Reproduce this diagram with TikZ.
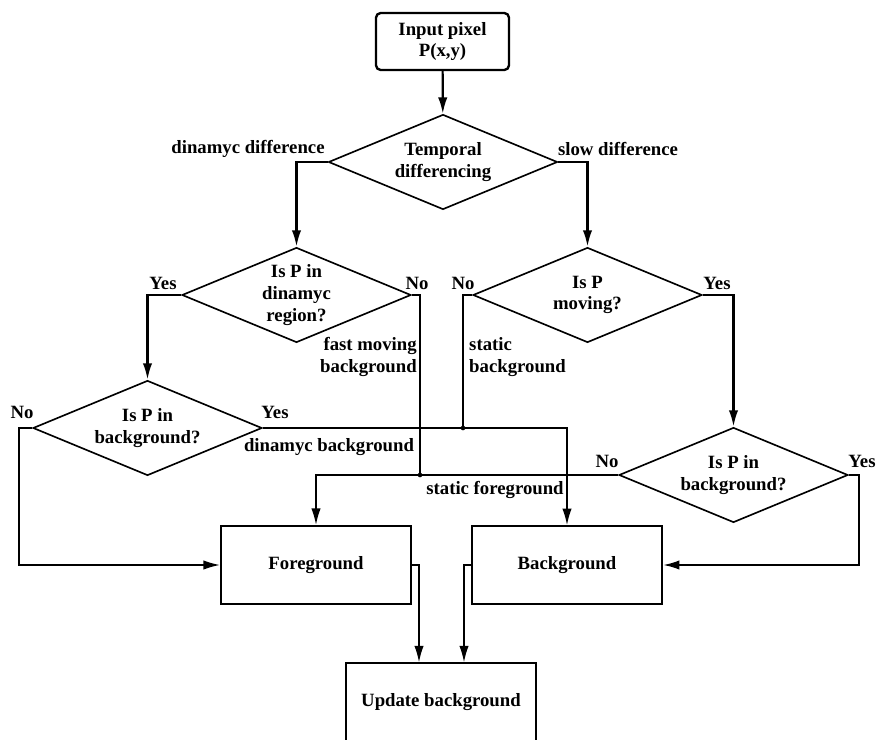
\documentclass[tikz,border=0pt]{standalone}
\usepackage{fontspec}
\setmainfont{Liberation Serif}
\usetikzlibrary{shapes.geometric, arrows.meta, positioning}

\begin{document}
\begin{tikzpicture}[
    x=3cm, y=-3cm,
    every node/.style={font=\bfseries\fontsize{16}{18.5}\selectfont},
    box/.style={
        rectangle, draw=black, line width=2pt,
        minimum width=5.7cm, minimum height=2.34cm,
        align=center, inner sep=0pt
    },
    decision/.style={
        diamond, draw=black, line width=1.4pt,
        minimum width=6.87cm, minimum height=2.85cm,
        aspect=2.4, align=center, inner sep=0pt
    },
    lbl/.style={inner sep=0pt, align=center},
    flow/.style={-{Latex[length=14pt,width=8pt]}, line width=1.9pt},
    thinflow/.style={-{Latex[length=14pt,width=8pt]}, line width=1.2pt},
    branch/.style={line width=1.9pt},
    joint/.style={circle, fill=black, inner sep=0pt, minimum size=4pt}
]
\useasboundingbox (0,0) rectangle (8.77,7.40);

% Start
\node[box, rounded corners=4pt, minimum width=3.99cm, minimum height=1.71cm] (input) at (4.425,0.415) {Input pixel\\P(x,y)};

% Decisions
\node[decision] (temporal) at (4.43,1.62) {Temporal\\differencing};
\node[decision] (dynregion) at (2.965,2.95) {Is P in\\dinamyc\\region?};
\node[decision] (moving) at (5.875,2.95) {Is P\\moving?};
\node[decision] (bgleft) at (1.475,4.28) {Is P in\\background?};
\node[decision] (bgright) at (7.335,4.75) {Is P in\\background?};

% Results
\node[box] (fg) at (3.16,5.65) {Foreground};
\node[box, line width=1.6pt] (bg) at (5.67,5.65) {Background};
\node[box, line width=1.3pt] (update) at (4.41,7.02) {Update background};

% Junctions
\coordinate (jfast) at (4.20,4.75);
\coordinate (jstatic) at (4.63,4.28);

% Relationships
\draw[flow] (input) -- (temporal);
\draw[flow] (temporal.west) -| (dynregion.north);
\draw[flow] (temporal.east) -| (moving.north);
\draw[flow] (dynregion.west) -| (bgleft.north);
\draw[flow] (moving.east) -| (bgright.north);
\draw[thinflow] (bgleft.west) -- ++(-0.13,0) |- (fg.west);
\draw[thinflow] (bgleft.east) -| (bg.north);
\draw[branch] (dynregion.east) -| (jfast);
\draw[branch] (moving.west) -| (jstatic);
\draw[thinflow] (bgright.west) -| (fg.north);
\draw[flow] (bgright.east) -- ++(0.10,0) |- (bg.east);
\draw[thinflow] (fg.east) -| ([xshift=-0.66cm]update.north);
\draw[thinflow] (bg.west) -| ([xshift=0.69cm]update.north);
\node[joint] at (jfast) {};
\node[joint] at (jstatic) {};

% Labels
\node[lbl] (lbldyn) at (2.48,1.49) {dinamyc difference};
\node[lbl] (lblslow) at (6.18,1.49) {slow difference};
\node[lbl] (yes1) at (1.63,2.83) {Yes};
\node[lbl] (no1) at (4.17,2.83) {No};
\node[lbl] (no2) at (4.63,2.83) {No};
\node[lbl] (yes2) at (7.17,2.83) {Yes};
\node[lbl] (no3) at (0.22,4.12) {No};
\node[lbl] (yes3) at (2.75,4.12) {Yes};
\node[lbl] (no4) at (6.07,4.61) {No};
\node[lbl] (yes4) at (8.62,4.61) {Yes};
\node[lbl, align=right, anchor=east] (lblfast) at (4.17,3.57) {fast moving\\background};
\node[lbl, align=left, anchor=west] (lblstatic) at (4.69,3.57) {static\\background};
\node[lbl] (lbldynbg) at (3.29,4.47) {dinamyc background};
\node[lbl] (lblstfg) at (4.95,4.90) {static foreground};

\end{tikzpicture}
\end{document}
